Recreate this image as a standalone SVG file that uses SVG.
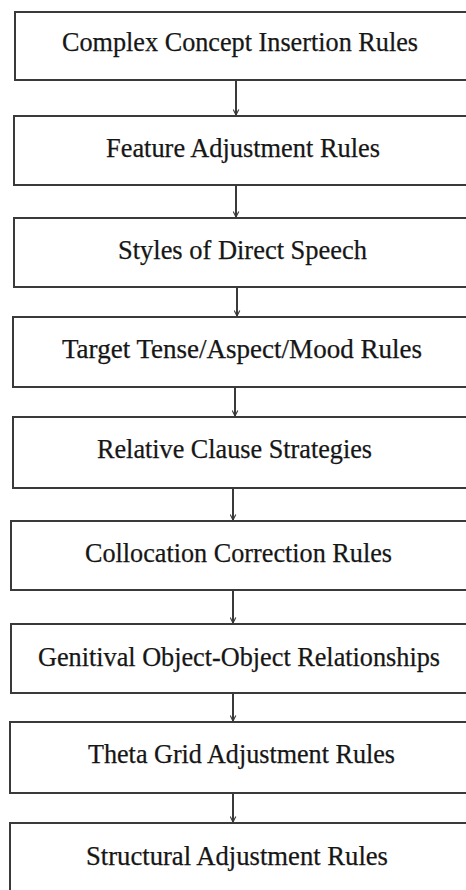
<svg xmlns="http://www.w3.org/2000/svg" width="466" height="890" viewBox="0 0 466 890">
<style>
.box{fill:#fff;stroke:#3a3a3a;stroke-width:2}
.lbl{font-family:"Liberation Serif","Times New Roman",serif;font-size:27px;fill:#161616;stroke:#161616;stroke-width:0.25;text-anchor:middle}
.con{stroke:#3a3a3a;stroke-width:2;fill:none;marker-end:url(#ah)}
</style>
<defs>
<marker id="ah" viewBox="0 0 10 10" refX="9" refY="5" markerWidth="7" markerHeight="7" markerUnits="userSpaceOnUse" orient="auto">
<path d="M1,1 L9,5 L1,9" fill="none" stroke="#3a3a3a" stroke-width="1.6"/>
</marker>
</defs>
<rect width="466" height="890" fill="#fff"/>
<g id="connectors">
<line class="con" x1="236" y1="81" x2="236" y2="115"/>
<line class="con" x1="236" y1="186" x2="236" y2="217"/>
<line class="con" x1="237" y1="288" x2="237" y2="316"/>
<line class="con" x1="235" y1="388" x2="235" y2="416"/>
<line class="con" x1="233" y1="489" x2="233" y2="520"/>
<line class="con" x1="233" y1="591" x2="233" y2="623"/>
<line class="con" x1="233" y1="694" x2="233" y2="721"/>
<line class="con" x1="233" y1="794" x2="233" y2="822"/>
</g>
<g id="n1"><rect class="box" x="15" y="12" width="470" height="68"/><text class="lbl" x="240" y="51" textLength="356" lengthAdjust="spacingAndGlyphs">Complex Concept Insertion Rules</text></g>
<g id="n2"><rect class="box" x="14" y="116" width="470" height="69"/><text class="lbl" x="243" y="157" textLength="274" lengthAdjust="spacingAndGlyphs">Feature Adjustment Rules</text></g>
<g id="n3"><rect class="box" x="14" y="218" width="470" height="69"/><text class="lbl" x="242.5" y="259" textLength="249" lengthAdjust="spacingAndGlyphs">Styles of Direct Speech</text></g>
<g id="n4"><rect class="box" x="13" y="317" width="470" height="70"/><text class="lbl" x="242" y="358" textLength="360" lengthAdjust="spacingAndGlyphs">Target Tense/Aspect/Mood Rules</text></g>
<g id="n5"><rect class="box" x="13" y="417" width="470" height="71"/><text class="lbl" x="234.5" y="458" textLength="275" lengthAdjust="spacingAndGlyphs">Relative Clause Strategies</text></g>
<g id="n6"><rect class="box" x="11" y="521" width="470" height="69"/><text class="lbl" x="238.5" y="562" textLength="307" lengthAdjust="spacingAndGlyphs">Collocation Correction Rules</text></g>
<g id="n7"><rect class="box" x="11" y="624" width="470" height="69"/><text class="lbl" x="239" y="666" textLength="402" lengthAdjust="spacingAndGlyphs">Genitival Object-Object Relationships</text></g>
<g id="n8"><rect class="box" x="10" y="722" width="470" height="71"/><text class="lbl" x="241.5" y="763" textLength="307" lengthAdjust="spacingAndGlyphs">Theta Grid Adjustment Rules</text></g>
<g id="n9"><rect class="box" x="10" y="823" width="470" height="80"/><text class="lbl" x="237" y="865" textLength="302" lengthAdjust="spacingAndGlyphs">Structural Adjustment Rules</text></g>
</svg>
